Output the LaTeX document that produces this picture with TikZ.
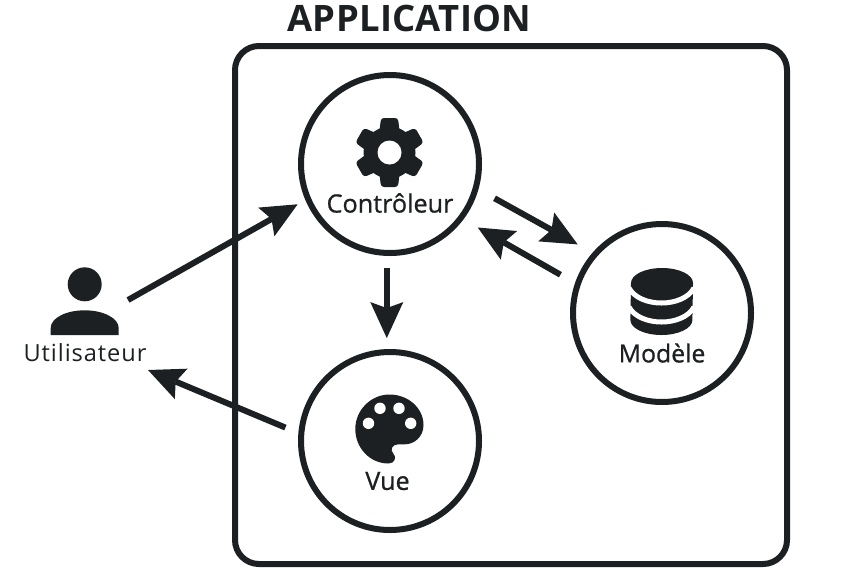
\documentclass[tikz,border=0pt]{standalone}
\usepackage{fontspec}
\setmainfont{Open Sans}
\usetikzlibrary{arrows.meta}
\definecolor{ink}{HTML}{1C2022}
\tikzset{
  bloc/.style={shape=circle,draw=ink,fill=white,line width=3pt,minimum size=89pt,inner sep=0pt},
  fleche/.style={draw=ink,line width=3pt,-{Stealth[length=18pt,width=16.5pt,inset=3pt,line width=0pt]}},
  etiquette/.style={text=ink,font=\fontsize{12.6}{14}\selectfont\addfontfeature{FakeBold=0.8},inner sep=0pt}
}
\begin{document}
\begin{tikzpicture}[x=0.5pt,y=-0.5pt]
\useasboundingbox (0,0) rectangle (850,574);
\node[text=ink,font=\fontsize{18.2}{20}\selectfont\bfseries\addfontfeature{LetterSpace=0.8},inner sep=0pt](titre) at (409.5,18) {APPLICATION};
\node[draw=ink,line width=3pt,rounded corners=12pt,minimum width=276pt,minimum height=259pt,inner sep=0pt](app) at (511,305) {};
\node[bloc](ctrl) at (390,164) {};
\node[bloc](vue) at (390,441) {};
\node[bloc](modele) at (662,313) {};
\node[etiquette](lctrl) at (390,203) {Contrôleur};
\node[etiquette](lvue) at (387.5,481) {Vue};
\node[etiquette,font=\fontsize{12.4}{14}\selectfont\addfontfeature{FakeBold=0.8}](lmodele) at (662,353) {Modèle};
\node[text=ink,font=\fontsize{11.8}{14}\selectfont\addfontfeature{LetterSpace=4},inner sep=0pt](luser) at (85,353) {Utilisateur};
\coordinate (userout) at (128,300);
\coordinate (userin) at (148,370);
% gear
\fill[ink] (389.5,152.5) circle (26);
\foreach \a in {0,60,...,300}
\fill[ink,rotate around={\a:(389.5,152.5)},rounded corners=1.5pt] (379,135) -- (381,118) -- (398,118) -- (400,135) -- cycle;
\fill[white] (389.5,152.5) circle (12);
% palette
\fill[ink] (355.3,429) .. controls (355.3,410) and (371,394.5) .. (389.5,394.5) .. controls (408,394.5) and (423.5,408) .. (423.5,425) .. controls (423.5,437) and (414,444.3) .. (405,444.3) -- (398,444.3) .. controls (392,444.3) and (390,450) .. (393,453) .. controls (397,457) and (395,463.5) .. (388.5,463.5) .. controls (370,463.5) and (355.3,448) .. (355.3,429) -- cycle;
\foreach \x/\y in {368.5/423.3,380/408.3,399/408.3,410.7/423.3}
\fill[white] (\x,\y) circle (5.7);
% base
\fill[ink] (631,283) arc[x radius=15.5pt,y radius=7.5pt,start angle=180,end angle=0] -- (692.4,320) arc[x radius=15.5pt,y radius=7.5pt,start angle=0,end angle=-180] -- cycle;
\draw[white,line width=2.5pt] (629,288) .. controls (640,308) and (683,308) .. (694,288);
\draw[white,line width=2.5pt] (629,307) .. controls (640,327) and (683,327) .. (694,307);
% user
\fill[ink] (84.7,284.3) circle (17);
\fill[ink] (50.7,335) -- (50.7,328) .. controls (50.7,318) and (66,310.3) .. (84.7,310.3) .. controls (103,310.3) and (118.7,318) .. (118.7,328) -- (118.7,335) -- cycle;
% liaisons
\path[fleche,shorten >=4.4pt] (userout) -- (ctrl.203);
\path[fleche,shorten <=7pt] (vue.175) -- (userin);
\path[fleche,shorten <=6pt,shorten >=5.5pt] (ctrl.268) -- (vue.92);
\path[fleche,shorten <=9.2pt,shorten >=8.5pt] (ctrl.-16) -- (modele.139);
\path[fleche,shorten <=8.4pt,shorten >=8.2pt] (modele.161) -- (ctrl.-37);
\end{tikzpicture}
\end{document}
